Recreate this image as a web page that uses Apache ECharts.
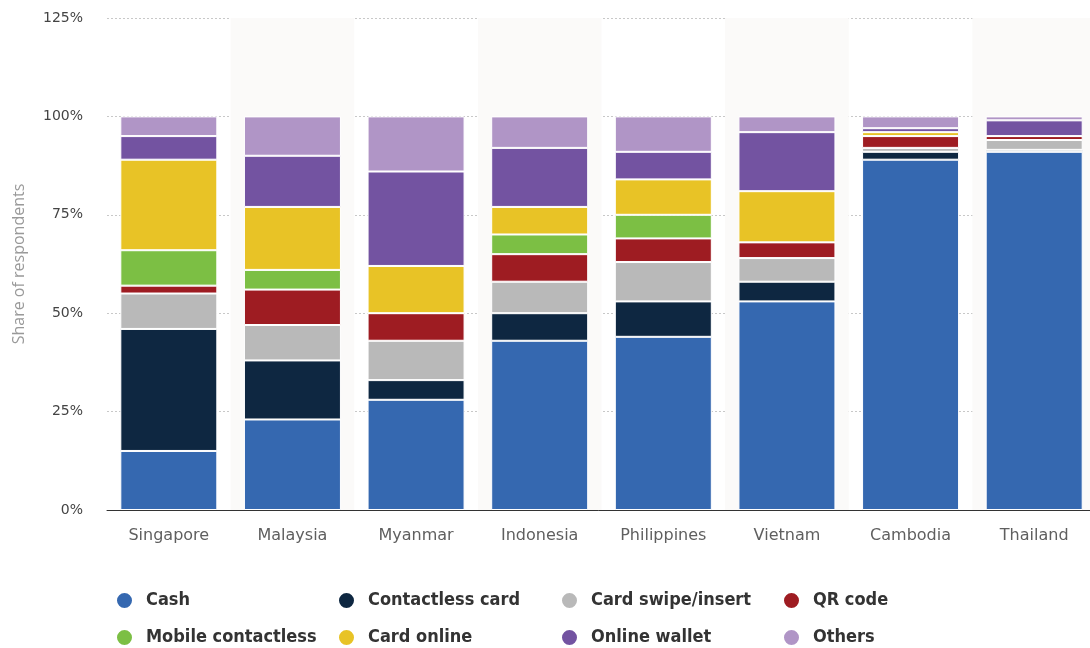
<!DOCTYPE html>
<html>
<head>
<meta charset="utf-8">
<title>Payment methods by country</title>
<script src="https://cdn.jsdelivr.net/npm/echarts@6/dist/echarts.min.js"></script>
<style>
  html, body { margin: 0; padding: 0; background: #ffffff; }
  #chart { width: 1090px; height: 648px; }
</style>
</head>
<body>
<div id="chart"></div>
<script>
// Countries along the x axis
const categories = ['Singapore', 'Malaysia', 'Myanmar', 'Indonesia', 'Philippines', 'Vietnam', 'Cambodia', 'Thailand'];

// Share of respondents (%) per payment method
const cash              = [15, 23, 28, 43, 44, 53, 89, 91];
const contactlessCard   = [31, 15, 5, 7, 9, 5, 2, 0.5];
const cardSwipeInsert   = [9, 9, 10, 8, 10, 6, 1, 2.5];
const qrCode            = [2, 9, 7, 7, 6, 4, 3, 1];
const mobileContactless = [9, 5, 0, 5, 6, 0, 0, 0];
const cardOnline        = [23, 16, 12, 7, 9, 13, 1, 0];
const onlineWallet      = [6, 13, 24, 15, 7, 15, 1, 4];
const others            = [5, 10, 14, 8, 9, 4, 3, 1];

// Y axis ticks
const yTicks = [0, 25, 50, 75, 100, 125];

const seriesDefs = [
  { name: 'Cash',              data: cash,              color: '#3568b0' },
  { name: 'Contactless card',  data: contactlessCard,   color: '#0e2741' },
  { name: 'Card swipe/insert', data: cardSwipeInsert,   color: '#b9b9b9' },
  { name: 'QR code',           data: qrCode,            color: '#9e1c22' },
  { name: 'Mobile contactless',data: mobileContactless, color: '#7cbf44' },
  { name: 'Card online',       data: cardOnline,        color: '#e8c326' },
  { name: 'Online wallet',     data: onlineWallet,      color: '#7353a1' },
  { name: 'Others',            data: others,            color: '#b095c6' }
];

const legendFont = '"DejaVu Sans Condensed", "DejaVu Sans", sans-serif';
const tickFont = '"DejaVu Sans", sans-serif';
const nameFont = '"Open Sans", "Noto Sans", sans-serif';

// One legend block per item so the columns line up on a fixed grid
const legendCols = [115, 337, 560, 782];
const legendRows = [591, 628];
const legends = seriesDefs.map((s, i) => ({
  data: [s.name],
  left: legendCols[i % 4],
  top: legendRows[Math.floor(i / 4)],
  padding: 0,
  icon: 'circle',
  symbolKeepAspect: false,
  itemWidth: 17,
  itemHeight: 17,
  itemGap: 0,
  selectedMode: false,
  textStyle: { fontFamily: legendFont, fontWeight: 'bold', fontSize: 18, color: '#333333', padding: [0, 0, 0, 8] }
}));

const chart = echarts.init(document.getElementById('chart'), null, { renderer: 'canvas' });

chart.setOption({
  animation: false,
  backgroundColor: '#ffffff',
  legend: legends,
  grid: { left: 107, top: 18, width: 989, height: 492, containLabel: false, outerBoundsMode: 'none' },
  xAxis: {
    type: 'category',
    data: categories,
    axisLine: { show: true, lineStyle: { color: '#333333', width: 1 } },
    axisTick: { show: false },
    axisLabel: { color: '#5f5f5f', fontFamily: tickFont, fontSize: 16, margin: 18 },
    splitArea: { show: true, areaStyle: { color: ['rgba(255,255,255,0)', '#fbfaf9'] } }
  },
  yAxis: {
    type: 'value',
    min: yTicks[0],
    max: yTicks[yTicks.length - 1],
    interval: 25,
    name: 'Share of respondents',
    nameLocation: 'middle',
    nameGap: 80,
    nameTextStyle: { color: '#999999', fontFamily: nameFont, fontSize: 16 },
    axisLine: { show: false },
    axisTick: { show: false },
    axisLabel: { formatter: '{value}%', color: '#444444', fontFamily: tickFont, fontSize: 14, margin: 24 },
    splitLine: { show: true, lineStyle: { color: '#c8c8c8', type: [2, 2], width: 1 } }
  },
  series: seriesDefs.map(s => ({
    name: s.name,
    type: 'bar',
    stack: 'total',
    data: s.data,
    barWidth: 97,
    itemStyle: { color: s.color, borderColor: '#ffffff', borderWidth: 1 },
    emphasis: { disabled: true }
  }))
});
</script>
</body>
</html>
